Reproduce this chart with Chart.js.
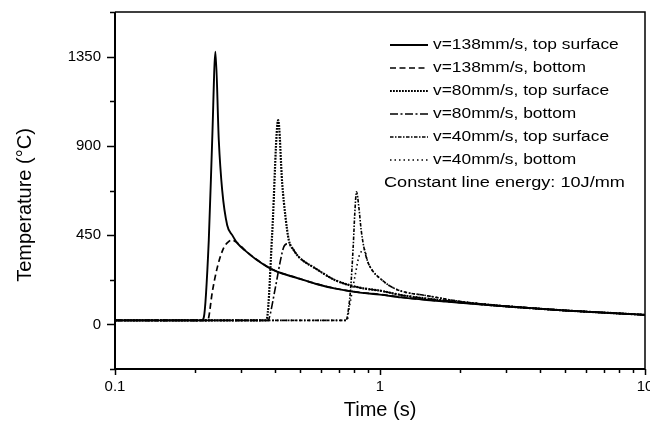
<!DOCTYPE html>
<html>
<head>
<meta charset="utf-8">
<title>Temperature history</title>
<script src="https://cdn.jsdelivr.net/npm/chart.js@4.4.0/dist/chart.umd.min.js"></script>
<style>
  html, body { margin: 0; padding: 0; background: #fff; }
  #wrap { width: 650px; height: 430px; }
</style>
</head>
<body>
<div id="wrap"><canvas id="tempChart" width="650" height="430"></canvas></div>
<script>
// time (s) / temperature (°C) samples for each run
const time138Top = [0.1, 0.212, 0.2163, 0.2259, 0.2327, 0.2394, 0.2464, 0.2538, 0.2651, 0.277, 0.29, 0.31, 0.339, 0.397, 0.494, 0.57, 0.68, 0.84, 1.0, 1.2, 1.5, 2.0, 2.7, 3.6, 5.0, 6.4, 8.0, 10];
const temp138Top = [20, 20, 35, 425, 930, 1375, 930, 677, 500, 450, 408, 372, 330, 273, 231, 205, 180, 160, 150, 136, 123, 109, 95, 83, 70, 62, 55, 48];

const time138Bottom = [0.1, 0.2235, 0.2259, 0.2327, 0.2441, 0.2574, 0.2688, 0.277, 0.29, 0.31, 0.339, 0.397, 0.494, 0.57, 0.68, 0.84, 1.0, 1.2, 1.5, 2.0, 2.7, 3.6, 5.0, 6.4, 8.0, 10];
const temp138Bottom = [20, 20, 37, 160, 295, 387, 418, 425, 410, 373, 331, 274, 232, 206, 181, 161, 151, 137, 124, 110, 95, 83, 70, 62, 55, 48];

const time80Top = [0.1, 0.37, 0.3752, 0.3919, 0.4129, 0.4275, 0.4399, 0.4527, 0.4728, 0.4936, 0.571, 0.68, 0.84, 1.0, 1.2, 1.5, 2.0, 2.7, 3.6, 5.0, 6.4, 8.0, 10];
const temp80Top = [20, 20, 35, 459, 1030, 711, 542, 425, 374, 340, 282, 222, 185, 170, 148, 130, 113, 96, 83, 70, 62, 55, 48];

const time80Bottom = [0.1, 0.378, 0.3805, 0.4034, 0.4213, 0.4335, 0.4464, 0.4596, 0.4728, 0.4936, 0.571, 0.68, 0.84, 1.0, 1.2, 1.5, 2.0, 2.7, 3.6, 5.0, 6.4, 8.0, 10];
const temp80Bottom = [20, 20, 25, 189, 324, 391, 406, 400, 374, 340, 282, 222, 185, 170, 148, 130, 113, 96, 83, 70, 62, 55, 48];

const time40Top = [0.1, 0.745, 0.752, 0.7738, 0.7922, 0.8033, 0.8152, 0.8318, 0.8492, 0.8687, 0.8945, 0.9345, 1.0, 1.095, 1.2, 1.5, 2.0, 2.7, 3.6, 5.0, 6.4, 8.0, 10];
const temp40Top = [20, 20, 37, 172, 391, 560, 669, 593, 475, 391, 324, 273, 232, 192, 168, 145, 116, 97, 84, 70, 62, 55, 48];

const time40Bottom = [0.1, 0.752, 0.7625, 0.8082, 0.8318, 0.8567, 0.874, 0.8945, 0.9345, 1.0, 1.095, 1.2, 1.5, 2.0, 2.7, 3.6, 5.0, 6.4, 8.0, 10];
const temp40Bottom = [20, 20, 70, 256, 340, 372, 378, 324, 273, 232, 192, 168, 145, 116, 97, 84, 70, 62, 55, 48];

const seriesLabels = [
  "v=138mm/s, top surface",
  "v=138mm/s, bottom",
  "v=80mm/s, top surface",
  "v=80mm/s, bottom",
  "v=40mm/s, top surface",
  "v=40mm/s, bottom"
];
const noteText = "Constant line energy: 10J/mm";

const xTickValues = [0.1, 1, 10];
const xMinorTicks = [0.2, 0.3, 0.4, 0.5, 0.6, 0.7, 0.8, 0.9, 2, 3, 4, 5, 6, 7, 8, 9];
const yTickValues = [0, 450, 900, 1350];
const yMinorTicks = [-225, 225, 675, 1125, 1575];
const xRange = [0.1, 10];
const yRange = [-225, 1575];

const xTitle = "Time (s)";
const yTitle = "Temperature (°C)";

// line styles per series: [width, dash]
const lineStyles = [
  [1.9, []],
  [1.7, [6, 3.5]],
  [2.2, [1.8, 1.2]],
  [1.6, [8, 2.5, 2, 2.5]],
  [1.6, [3.5, 1.5, 1.5, 1.5]],
  [1.6, [1.5, 3]]
];

const FONT = '"Liberation Sans", Arial, Helvetica, sans-serif';

function toPoints(times, temps) {
  return times.map((t, i) => ({ x: t, y: temps[i] }));
}

const seriesData = [
  toPoints(time138Top, temp138Top),
  toPoints(time138Bottom, temp138Bottom),
  toPoints(time80Top, temp80Top),
  toPoints(time80Bottom, temp80Bottom),
  toPoints(time40Top, temp40Top),
  toPoints(time40Bottom, temp40Bottom)
];

const datasets = seriesData.map((pts, i) => ({
  label: seriesLabels[i],
  data: pts,
  showLine: true,
  borderColor: "#000",
  backgroundColor: "#000",
  borderWidth: lineStyles[i][0],
  borderDash: lineStyles[i][1],
  pointRadius: 0,
  cubicInterpolationMode: "monotone",
  fill: false
}));

// axis frame, tick marks, axis titles and the key
const decorations = {
  id: "decorations",
  afterDraw(chart) {
    const { ctx, chartArea: a, scales } = chart;
    const xs = scales.x, ys = scales.y;
    ctx.save();
    ctx.strokeStyle = "#000";
    ctx.fillStyle = "#000";
    ctx.setLineDash([]);

    // thin top and right edges
    ctx.lineWidth = 1.5;
    ctx.beginPath();
    ctx.moveTo(a.left, a.top);
    ctx.lineTo(a.right, a.top);
    ctx.lineTo(a.right, a.bottom);
    ctx.stroke();

    // heavier left and bottom axes
    ctx.lineWidth = 2;
    ctx.beginPath();
    ctx.moveTo(a.left, a.top);
    ctx.lineTo(a.left, a.bottom);
    ctx.lineTo(a.right, a.bottom);
    ctx.stroke();

    ctx.lineWidth = 1.5;
    ctx.beginPath();
    yTickValues.forEach(v => {
      const py = Math.round(ys.getPixelForValue(v)) + 0.5;
      ctx.moveTo(a.left - 8, py);
      ctx.lineTo(a.left, py);
    });
    yMinorTicks.forEach(v => {
      const py = Math.round(ys.getPixelForValue(v)) + 0.5;
      ctx.moveTo(a.left - 5, py);
      ctx.lineTo(a.left, py);
    });
    xTickValues.forEach(v => {
      const px = Math.round(xs.getPixelForValue(v)) + 0.5;
      ctx.moveTo(px, a.bottom);
      ctx.lineTo(px, a.bottom + 6);
    });
    xMinorTicks.forEach(v => {
      const px = Math.round(xs.getPixelForValue(v)) + 0.5;
      ctx.moveTo(px, a.bottom);
      ctx.lineTo(px, a.bottom + 4);
    });
    ctx.stroke();

    // axis titles
    ctx.font = "20px " + FONT;
    ctx.textAlign = "center";
    ctx.textBaseline = "middle";
    ctx.fillText(xTitle, (a.left + a.right) / 2, 410);
    ctx.save();
    ctx.translate(25, 205);
    ctx.rotate(-Math.PI / 2);
    ctx.fillText(yTitle, 0, 0);
    ctx.restore();

    // key
    const rowStart = 45, rowStep = 23;
    ctx.textAlign = "left";
    ctx.font = "15.5px " + FONT;
    seriesLabels.forEach((lab, i) => {
      const yy = rowStart + i * rowStep;
      ctx.lineWidth = lineStyles[i][0];
      ctx.setLineDash(lineStyles[i][1]);
      ctx.beginPath();
      ctx.moveTo(390, yy);
      ctx.lineTo(428, yy);
      ctx.stroke();
      ctx.setLineDash([]);
      ctx.save();
      ctx.translate(433, yy);
      ctx.scale(1.12, 1);
      ctx.fillText(lab, 0, 0);
      ctx.restore();
    });
    ctx.save();
    ctx.translate(384, rowStart + 6 * rowStep);
    ctx.scale(1.17, 1);
    ctx.fillText(noteText, 0, 0);
    ctx.restore();

    ctx.restore();
  }
};

function noEdgePadding(s) {
  s.paddingLeft = 0;
  s.paddingRight = 0;
  s.paddingTop = 0;
  s.paddingBottom = 0;
}

Chart.defaults.font.family = FONT;
Chart.defaults.color = "#000";

new Chart(document.getElementById("tempChart"), {
  type: "scatter",
  data: { datasets },
  options: {
    responsive: false,
    animation: false,
    devicePixelRatio: 1,
    layout: { padding: { top: 12, right: 5, left: 0, bottom: 0 } },
    plugins: {
      legend: { display: false },
      tooltip: { enabled: false }
    },
    scales: {
      x: {
        type: "logarithmic",
        min: xRange[0],
        max: xRange[1],
        border: { display: false },
        grid: { display: true, drawOnChartArea: false, drawTicks: false },
        afterBuildTicks: s => { s.ticks = xTickValues.map(v => ({ value: v })); },
        afterFit: s => { s.height = 61; noEdgePadding(s); },
        ticks: {
          autoSkip: false,
          maxRotation: 0,
          padding: 9,
          font: { size: 15 },
          callback: v => String(v)
        }
      },
      y: {
        type: "linear",
        min: yRange[0],
        max: yRange[1],
        border: { display: false },
        grid: { display: true, drawOnChartArea: false, drawTicks: false },
        afterBuildTicks: s => { s.ticks = yTickValues.map(v => ({ value: v })); },
        afterFit: s => { s.width = 115; noEdgePadding(s); },
        ticks: {
          padding: 14,
          font: { size: 15 },
          callback: v => String(v)
        }
      }
    }
  },
  plugins: [decorations]
});
</script>
</body>
</html>
